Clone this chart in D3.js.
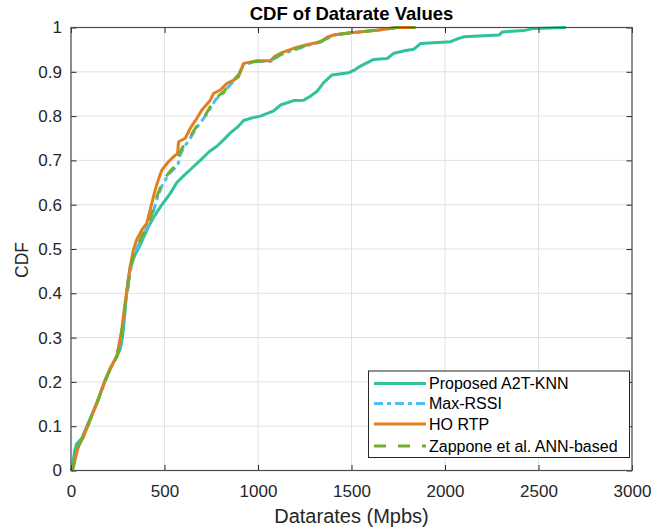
<!DOCTYPE html>
<html>
<head>
<meta charset="utf-8">
<script src="https://cdn.jsdelivr.net/npm/d3@7/dist/d3.min.js"></script>
<style>
  html, body { margin: 0; padding: 0; background: #ffffff; }
  svg { display: block; font-family: "Liberation Sans", Arial, Helvetica, sans-serif; }
</style>
</head>
<body>
<svg id="chart" width="669" height="527"></svg>
<script>
// Empirical CDF samples: [datarate in Mbps, cumulative probability]
const proposedA2TKNN = [
  [0,0],[8,0.01],[20,0.045],[30,0.06],[57,0.072],[80,0.095],[105,0.12],[140,0.155],
  [180,0.2],[212,0.232],[240,0.255],[262,0.272],[275,0.3],[285,0.34],[295,0.39],
  [305,0.43],[318,0.46],[340,0.485],[365,0.505],[387,0.525],[414,0.55],[440,0.57],
  [470,0.59],[495,0.605],[530,0.625],[566,0.65],[602,0.665],[640,0.68],[691,0.70],
  [740,0.72],[780,0.732],[820,0.748],[852,0.762],[890,0.775],[923,0.79],[960,0.795],
  [1012,0.8],[1060,0.808],[1084,0.812],[1120,0.825],[1191,0.835],[1245,0.836],
  [1280,0.845],[1316,0.856],[1350,0.875],[1396,0.893],[1486,0.898],[1520,0.905],
  [1548,0.913],[1590,0.922],[1619,0.928],[1691,0.930],[1727,0.942],[1790,0.948],
  [1834,0.951],[1870,0.964],[2030,0.968],[2070,0.975],[2102,0.979],[2289,0.983],
  [2307,0.990],[2420,0.993],[2477,0.998],[2646,1.0]
];
const maxRSSI = [
  [0,0],[10,0.005],[22,0.026],[40,0.056],[68,0.078],[103,0.115],[140,0.153],
  [185,0.205],[212,0.23],[248,0.26],[274,0.317],[293,0.38],[311,0.432],[324,0.465],
  [348,0.498],[384,0.53],[428,0.565],[463,0.618],[492,0.648],[528,0.671],[572,0.69],
  [582,0.71],[600,0.727],[642,0.753],[668,0.772],[722,0.802],[775,0.838],[818,0.853],
  [854,0.872],[898,0.892],[923,0.917],[995,0.923],[1066,0.923],[1120,0.938],
  [1191,0.949],[1262,0.959],[1334,0.967],[1405,0.983],[1495,0.988],[1637,0.994],
  [1745,1.0],[1840,1.0]
];
const hoRTP = [
  [0,0],[10,0.005],[21,0.024],[39,0.054],[66,0.076],[102,0.114],[138,0.152],
  [182,0.204],[209,0.23],[245,0.257],[271,0.317],[289,0.377],[307,0.43],[316,0.46],
  [334,0.498],[350,0.52],[379,0.543],[405,0.558],[423,0.588],[450,0.633],[470,0.66],
  [486,0.678],[504,0.688],[521,0.697],[548,0.708],[570,0.716],[575,0.742],[611,0.75],
  [637,0.772],[673,0.795],[700,0.814],[745,0.836],[762,0.851],[798,0.859],[834,0.874],
  [870,0.881],[896,0.889],[910,0.905],[923,0.919],[995,0.925],[1066,0.925],[1090,0.935],
  [1120,0.942],[1191,0.953],[1262,0.961],[1334,0.968],[1370,0.978],[1405,0.983],
  [1495,0.988],[1637,0.994],[1745,1.0],[1843,1.0]
];
const zapponeANN = [
  [0,0],[10,0.005],[22,0.026],[40,0.056],[68,0.078],[103,0.115],[140,0.153],
  [185,0.205],[212,0.23],[248,0.26],[274,0.317],[292,0.38],[310,0.432],[322,0.465],
  [345,0.498],[380,0.53],[423,0.565],[459,0.618],[486,0.648],[521,0.671],[566,0.693],
  [575,0.71],[593,0.727],[637,0.753],[664,0.772],[718,0.802],[771,0.840],[816,0.855],
  [852,0.874],[896,0.893],[923,0.918],[995,0.924],[1066,0.924],[1120,0.94],
  [1191,0.951],[1262,0.96],[1334,0.968],[1405,0.983],[1495,0.988],[1637,0.994],
  [1745,1.0],[1840,1.0]
];

const seriesNames = ["Proposed A2T-KNN", "Max-RSSI", "HO RTP", "Zappone et al. ANN-based"];
const xTickValues = [0, 500, 1000, 1500, 2000, 2500, 3000];
const yTickValues = [0, 0.1, 0.2, 0.3, 0.4, 0.5, 0.6, 0.7, 0.8, 0.9, 1];

const series = [
  { name: seriesNames[0], data: proposedA2TKNN, color: "#2fc29c", dash: null },
  { name: seriesNames[1], data: maxRSSI,        color: "#4dbeee", dash: "9,4,4,4" },
  { name: seriesNames[2], data: hoRTP,          color: "#e0801f", dash: null },
  { name: seriesNames[3], data: zapponeANN,     color: "#77ac30", dash: "12,12" }
];

const svg = d3.select("#chart");
const plotL = 71, plotR = 632, plotT = 27.5, plotB = 470.5;

const x = d3.scaleLinear().domain([0, 3000]).range([plotL, plotR]);
const y = d3.scaleLinear().domain([0, 1]).range([plotB, plotT]);

// grid
const grid = svg.append("g");
grid.selectAll("line.gx").data(xTickValues).join("line")
  .attr("x1", d => x(d)).attr("x2", d => x(d))
  .attr("y1", plotT).attr("y2", plotB)
  .attr("stroke", "#e1e1e1").attr("stroke-width", 1);
grid.selectAll("line.gy").data(yTickValues).join("line")
  .attr("x1", plotL).attr("x2", plotR)
  .attr("y1", d => y(d)).attr("y2", d => y(d))
  .attr("stroke", "#e1e1e1").attr("stroke-width", 1);

// curves
const line = d3.line().x(d => x(d[0])).y(d => y(d[1]));
svg.append("g").selectAll("path").data(series).join("path")
  .attr("d", d => line(d.data))
  .attr("fill", "none")
  .attr("stroke", d => d.color)
  .attr("stroke-width", 3)
  .attr("stroke-linejoin", "round")
  .attr("stroke-dasharray", d => d.dash);

// axes with inward ticks on all four sides
const tickLen = 5.5;
const axisColor = "#4d4d4d";
const bottomAxis = d3.axisBottom(x).tickValues(xTickValues).tickSize(-tickLen).tickPadding(14).tickFormat(d3.format("d"));
const leftAxis = d3.axisLeft(y).tickValues(yTickValues).tickSize(-tickLen).tickPadding(9).tickFormat(d => d === 0 || d === 1 ? String(d) : d3.format(".1f")(d));
const topAxis = d3.axisTop(x).tickValues(xTickValues).tickSize(-tickLen).tickFormat("");
const rightAxis = d3.axisRight(y).tickValues(yTickValues).tickSize(-tickLen).tickFormat("");

function styleAxis(g) {
  g.select(".domain").remove();
  g.selectAll(".tick line").attr("stroke", "#262626").attr("stroke-width", 1);
  g.selectAll(".tick text").attr("fill", "#262626").attr("font-size", 17)
    .attr("font-family", "'Liberation Sans', Arial, sans-serif");
}
svg.append("g").attr("transform", `translate(0,${plotB})`).call(bottomAxis).call(styleAxis);
svg.append("g").attr("transform", `translate(${plotL},0)`).call(leftAxis).call(styleAxis);
svg.append("g").attr("transform", `translate(0,${plotT})`).call(topAxis).call(styleAxis);
svg.append("g").attr("transform", `translate(${plotR},0)`).call(rightAxis).call(styleAxis);
svg.append("rect")
  .attr("x", plotL).attr("y", plotT)
  .attr("width", plotR - plotL).attr("height", plotB - plotT)
  .attr("fill", "none").attr("stroke", axisColor).attr("stroke-width", 1.2);

// titles
svg.append("text")
  .attr("x", (plotL + plotR) / 2).attr("y", 20)
  .attr("text-anchor", "middle").attr("font-weight", "bold")
  .attr("font-size", 18.5).attr("fill", "#000")
  .text("CDF of Datarate Values");
svg.append("text")
  .attr("x", (plotL + plotR) / 2).attr("y", 523)
  .attr("text-anchor", "middle").attr("font-size", 20).attr("fill", "#262626")
  .text("Datarates (Mpbs)");
svg.append("text")
  .attr("transform", `translate(28,${(plotT + plotB) / 2 + 11}) rotate(-90)`)
  .attr("text-anchor", "middle").attr("font-size", 17.5).attr("fill", "#262626")
  .text("CDF");

// legend
const legend = svg.append("g");
legend.append("rect")
  .attr("x", 368.5).attr("y", 371).attr("width", 261).attr("height", 86.5)
  .attr("fill", "#fff").attr("stroke", "#262626").attr("stroke-width", 1);
const rowY = [383.5, 403.5, 424, 446];
series.forEach((s, i) => {
  legend.append("line")
    .attr("x1", 374).attr("x2", 426)
    .attr("y1", rowY[i]).attr("y2", rowY[i])
    .attr("stroke", s.color).attr("stroke-width", 3)
    .attr("stroke-dasharray", s.dash);
  legend.append("text")
    .attr("x", 429).attr("y", rowY[i] + 5.8)
    .attr("font-size", 16).attr("fill", "#000")
    .text(s.name);
});
</script>
</body>
</html>
